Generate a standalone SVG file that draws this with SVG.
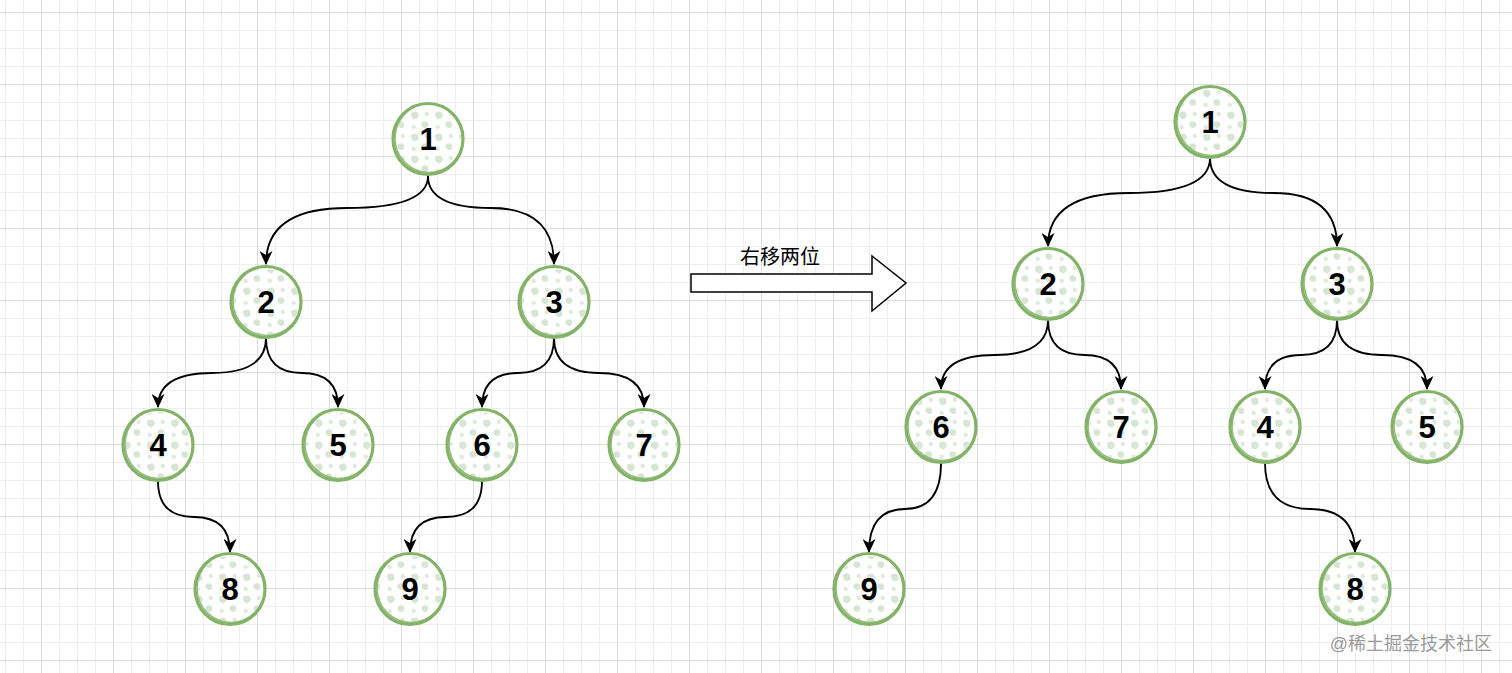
<svg xmlns="http://www.w3.org/2000/svg" width="1512" height="673" viewBox="0 0 1512 673">
<style>
.ring{fill:none;stroke:#82b366;stroke-width:3.2}
.ring2{fill:none;stroke:#82b366;stroke-width:1.6;opacity:0.85}
.fillc{fill:url(#speck)}
.lbl{font-family:"Liberation Sans",Arial,sans-serif;font-weight:bold;font-size:31px;fill:#000;text-anchor:middle}
.edge{fill:none;stroke:#000;stroke-width:1.8;marker-end:url(#arr)}
</style>
<defs>
<pattern id="minor" patternUnits="userSpaceOnUse" x="5" y="12" width="18" height="18">
<path d="M0.5,0 V18 M0,0.5 H18" stroke="#eeeeee" stroke-width="1" fill="none"/>
</pattern>
<pattern id="major" patternUnits="userSpaceOnUse" x="41" y="12" width="72" height="72">
<path d="M0.5,0 V72 M0,0.5 H72" stroke="#dcdcdc" stroke-width="1" fill="none"/>
</pattern>
<pattern id="speck" patternUnits="userSpaceOnUse" width="24" height="22">
<rect width="24" height="22" fill="#ffffff"/>
<path d="M3,3 q4,-3 7,0 q2,4 -2,6 q-5,1 -5,-6z" fill="#d7e5d3"/>
<path d="M14,12 q4,-2 6,1 q1,5 -3,5 q-5,-1 -3,-6z" fill="#d7e5d3"/>
<path d="M17,2 q3,-1 4,2 q-1,3 -3,2 q-2,-1 -1,-4z" fill="#dfeadb"/>
<path d="M4,15 q3,-1 4,2 q-1,3 -3,2 q-2,-1 -1,-4z" fill="#dfeadb"/>
</pattern>
<marker id="arr" markerUnits="userSpaceOnUse" viewBox="0 0 14 13" markerWidth="14" markerHeight="13" refX="13" refY="6.5" orient="auto">
<path d="M0,0 L14,6.5 L0,13 L4,6.5 Z" fill="#000"/>
</marker>
</defs>
<rect width="1512" height="673" fill="#ffffff"/>
<rect width="1512" height="673" fill="url(#minor)"/>
<rect width="1512" height="673" fill="url(#major)"/>

<g id="connectors">
<path class="edge" d="M428,176 Q428,208 347,208 Q266,208 266,264"/>
<path class="edge" d="M428,176 Q428,208 491,208 Q554,208 554,264"/>
<path class="edge" d="M266,338 Q266,373 212,373 Q158,373 158,407"/>
<path class="edge" d="M266,338 Q266,373 302,373 Q338,373 338,407"/>
<path class="edge" d="M554,338 Q554,373 518,373 Q482,373 482,407"/>
<path class="edge" d="M554,338 Q554,373 599,373 Q644,373 644,407"/>
<path class="edge" d="M158,481 Q158,517 194,517 Q230,517 230,552"/>
<path class="edge" d="M482,481 Q482,517 446,517 Q410,517 410,552"/>
<path class="edge" d="M1210,158 Q1210,193 1129,193 Q1048,193 1048,246"/>
<path class="edge" d="M1210,158 Q1210,193 1273.5,193 Q1337,193 1337,246"/>
<path class="edge" d="M1048,320 Q1048,355 994.5,355 Q941,355 941,389"/>
<path class="edge" d="M1048,320 Q1048,355 1084.5,355 Q1121,355 1121,389"/>
<path class="edge" d="M1337,320 Q1337,355 1301,355 Q1265,355 1265,389"/>
<path class="edge" d="M1337,320 Q1337,355 1382,355 Q1427,355 1427,389"/>
<path class="edge" d="M941,463 Q941,509 905,509 Q869,509 869,552"/>
<path class="edge" d="M1265,463 Q1265,509 1310,509 Q1355,509 1355,552"/>
</g>

<g id="L1"><circle class="fillc" cx="428" cy="139" r="33"/><ellipse class="ring" cx="428" cy="139" rx="35" ry="35.5"/><ellipse class="ring2" cx="429" cy="138" rx="34" ry="34.5"/><text class="lbl" x="428" y="150">1</text></g>
<g id="L2"><circle class="fillc" cx="266" cy="302" r="33"/><ellipse class="ring" cx="266" cy="302" rx="35" ry="35.5"/><ellipse class="ring2" cx="267" cy="301" rx="34" ry="34.5"/><text class="lbl" x="266" y="313">2</text></g>
<g id="L3"><circle class="fillc" cx="554" cy="302" r="33"/><ellipse class="ring" cx="554" cy="302" rx="35" ry="35.5"/><ellipse class="ring2" cx="555" cy="301" rx="34" ry="34.5"/><text class="lbl" x="554" y="313">3</text></g>
<g id="L4"><circle class="fillc" cx="158" cy="445" r="33"/><ellipse class="ring" cx="158" cy="445" rx="35" ry="35.5"/><ellipse class="ring2" cx="159" cy="444" rx="34" ry="34.5"/><text class="lbl" x="158" y="456">4</text></g>
<g id="L5"><circle class="fillc" cx="338" cy="445" r="33"/><ellipse class="ring" cx="338" cy="445" rx="35" ry="35.5"/><ellipse class="ring2" cx="339" cy="444" rx="34" ry="34.5"/><text class="lbl" x="338" y="456">5</text></g>
<g id="L6"><circle class="fillc" cx="482" cy="445" r="33"/><ellipse class="ring" cx="482" cy="445" rx="35" ry="35.5"/><ellipse class="ring2" cx="483" cy="444" rx="34" ry="34.5"/><text class="lbl" x="482" y="456">6</text></g>
<g id="L7"><circle class="fillc" cx="644" cy="445" r="33"/><ellipse class="ring" cx="644" cy="445" rx="35" ry="35.5"/><ellipse class="ring2" cx="645" cy="444" rx="34" ry="34.5"/><text class="lbl" x="644" y="456">7</text></g>
<g id="L8"><circle class="fillc" cx="230" cy="589" r="33"/><ellipse class="ring" cx="230" cy="589" rx="35" ry="35.5"/><ellipse class="ring2" cx="231" cy="588" rx="34" ry="34.5"/><text class="lbl" x="230" y="600">8</text></g>
<g id="L9"><circle class="fillc" cx="410" cy="589" r="33"/><ellipse class="ring" cx="410" cy="589" rx="35" ry="35.5"/><ellipse class="ring2" cx="411" cy="588" rx="34" ry="34.5"/><text class="lbl" x="410" y="600">9</text></g>

<g id="R1"><circle class="fillc" cx="1210" cy="122" r="33"/><ellipse class="ring" cx="1210" cy="122" rx="35" ry="35.5"/><ellipse class="ring2" cx="1211" cy="121" rx="34" ry="34.5"/><text class="lbl" x="1210" y="133">1</text></g>
<g id="R2"><circle class="fillc" cx="1048" cy="284" r="33"/><ellipse class="ring" cx="1048" cy="284" rx="35" ry="35.5"/><ellipse class="ring2" cx="1049" cy="283" rx="34" ry="34.5"/><text class="lbl" x="1048" y="295">2</text></g>
<g id="R3"><circle class="fillc" cx="1337" cy="284" r="33"/><ellipse class="ring" cx="1337" cy="284" rx="35" ry="35.5"/><ellipse class="ring2" cx="1338" cy="283" rx="34" ry="34.5"/><text class="lbl" x="1337" y="295">3</text></g>
<g id="R6"><circle class="fillc" cx="941" cy="427" r="33"/><ellipse class="ring" cx="941" cy="427" rx="35" ry="35.5"/><ellipse class="ring2" cx="942" cy="426" rx="34" ry="34.5"/><text class="lbl" x="941" y="438">6</text></g>
<g id="R7"><circle class="fillc" cx="1121" cy="427" r="33"/><ellipse class="ring" cx="1121" cy="427" rx="35" ry="35.5"/><ellipse class="ring2" cx="1122" cy="426" rx="34" ry="34.5"/><text class="lbl" x="1121" y="438">7</text></g>
<g id="R4"><circle class="fillc" cx="1265" cy="427" r="33"/><ellipse class="ring" cx="1265" cy="427" rx="35" ry="35.5"/><ellipse class="ring2" cx="1266" cy="426" rx="34" ry="34.5"/><text class="lbl" x="1265" y="438">4</text></g>
<g id="R5"><circle class="fillc" cx="1427" cy="427" r="33"/><ellipse class="ring" cx="1427" cy="427" rx="35" ry="35.5"/><ellipse class="ring2" cx="1428" cy="426" rx="34" ry="34.5"/><text class="lbl" x="1427" y="438">5</text></g>
<g id="R9"><circle class="fillc" cx="869" cy="589" r="33"/><ellipse class="ring" cx="869" cy="589" rx="35" ry="35.5"/><ellipse class="ring2" cx="870" cy="588" rx="34" ry="34.5"/><text class="lbl" x="869" y="600">9</text></g>
<g id="R8"><circle class="fillc" cx="1355" cy="589" r="33"/><ellipse class="ring" cx="1355" cy="589" rx="35" ry="35.5"/><ellipse class="ring2" cx="1356" cy="588" rx="34" ry="34.5"/><text class="lbl" x="1355" y="600">8</text></g>

<g id="shift-arrow">
<path d="M691,274 L872,274 L872,256 L906,283 L872,311 L872,292 L691,292 Z" fill="#ffffff" stroke="#000" stroke-width="1.5"/>
<text x="780" y="264" font-family="'Liberation Sans','Noto Sans CJK SC',sans-serif" font-size="20" fill="#000" text-anchor="middle">右移两位</text>
</g>

<text x="1492" y="650" font-family="'Liberation Sans','Noto Sans CJK SC',sans-serif" font-size="18" fill="#9a9a9a" text-anchor="end">@稀土掘金技术社区</text>
</svg>
